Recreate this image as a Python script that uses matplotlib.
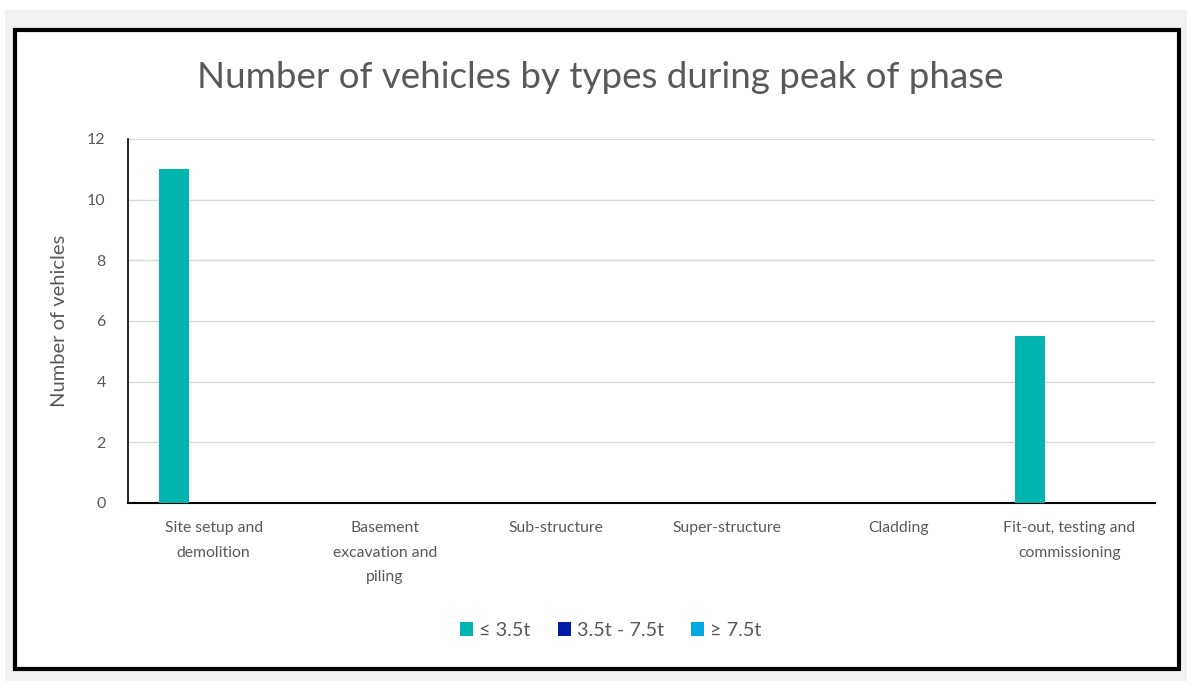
import matplotlib.pyplot as plt
from matplotlib.patches import Rectangle
import numpy as np

# data
phases = ['Site setup and\ndemolition', 'Basement\nexcavation and\npiling', 'Sub-structure',
          'Super-structure', 'Cladding', 'Fit-out, testing and\ncommissioning']
light = [11, 0, 0, 0, 0, 5.5]
medium = [0, 0, 0, 0, 0, 0]
heavy = [0, 0, 0, 0, 0, 0]
series_names = ['\u2264 3.5t', '3.5t - 7.5t', '\u2265 7.5t']
series_colors = ['#00B5AF', '#0019A8', '#00A9E0']

plt.rcParams['font.family'] = ['Lato', 'DejaVu Sans']
grey_txt = '#595959'

fig = plt.figure(figsize=(11.87, 6.81), dpi=100)
fig.patch.set_facecolor('white')
# grey surround and black framed white chart area
fig.patches.append(Rectangle((5/1187, 0), 1, 1 - 10/681, transform=fig.transFigure,
                             facecolor='#f2f2f2', edgecolor='none', zorder=0))
fig.patches.append(Rectangle((15/1187, 12/681), (1179-15)/1187, (651-12)/681,
                             transform=fig.transFigure, facecolor='white',
                             edgecolor='black', linewidth=3, zorder=1))

ax = fig.add_axes([128/1187, 1 - 503/681, (1155-128)/1187, (503-139)/681])
ax.set_zorder(2)
ax.set_facecolor('none')

x = np.arange(len(phases))
w = 30 / 171.2
off = 39.5 / 171.2
for i, (vals, name, col) in enumerate(zip([light, medium, heavy], series_names, series_colors)):
    ax.bar(x + (i - 1) * off, vals, width=w, color=col, label=name, zorder=3)

ax.set_xlim(-0.5, len(phases) - 0.5)
ax.set_ylim(0, 12)
ax.set_yticks(range(0, 13, 2))
ax.set_xticks(x)
ax.set_xticklabels(phases, fontsize=11.3, color=grey_txt, linespacing=1.95, va='top')
ax.tick_params(axis='y', length=0, pad=16, labelsize=11.5, labelcolor=grey_txt)
ax.tick_params(axis='x', length=0, pad=13)
ax.grid(axis='y', color='#d9d9d9', linewidth=1, zorder=0)
for s in ['top', 'right']:
    ax.spines[s].set_visible(False)
ax.spines['left'].set_color('black')
ax.spines['bottom'].set_color('black')
ax.spines['left'].set_linewidth(1.2)
ax.spines['bottom'].set_linewidth(1.5)

ax.set_ylabel('Number of vehicles', fontsize=14.5, color=grey_txt, labelpad=14)
fig.text(0.506, 1 - 78/681, 'Number of vehicles by types during peak of phase',
         ha='center', va='center', fontsize=26.5, color=grey_txt)

ax.legend(loc='center', bbox_to_anchor=(0.47, -0.35), ncol=3, frameon=False,
          fontsize=14.3, labelcolor=grey_txt, handlelength=0.65, handleheight=0.65,
          handletextpad=0.3, columnspacing=1.4)

fig.savefig('out.png', dpi=100)
